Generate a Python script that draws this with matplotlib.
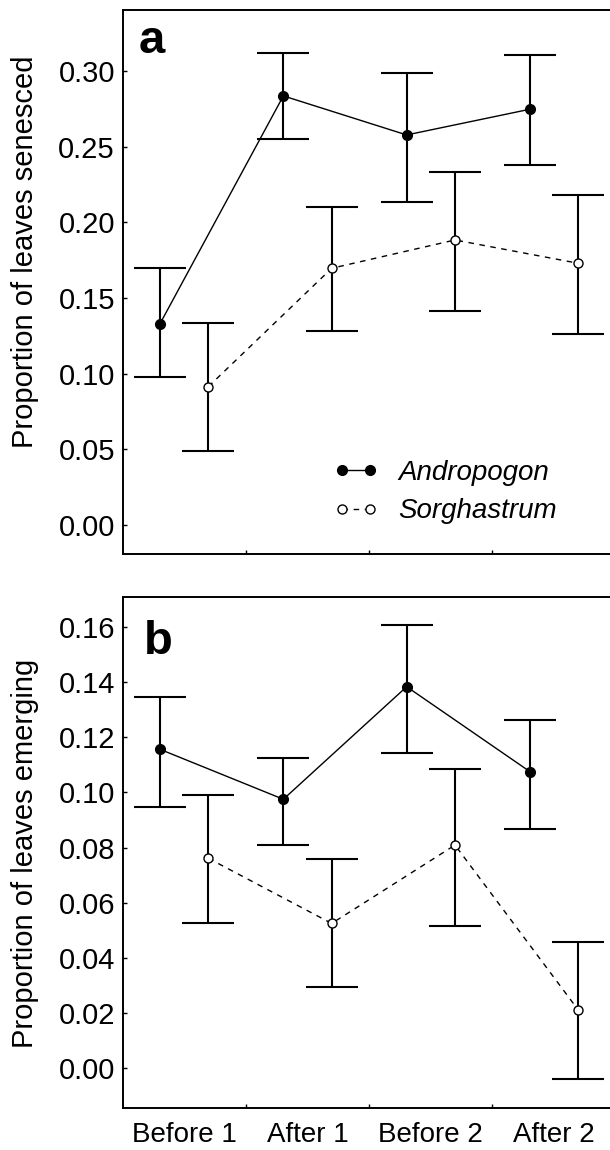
import numpy as np
import matplotlib.pyplot as plt
from matplotlib.ticker import FixedLocator

# --- data ---
periods = ["Before 1", "After 1", "Before 2", "After 2"]

# panel a: proportion of leaves senesced (mean, lower end, upper end)
andro_sen = [0.133, 0.2835, 0.2577, 0.2747]
andro_sen_lo = [0.0976, 0.2549, 0.2137, 0.2379]
andro_sen_hi = [0.1696, 0.3121, 0.2985, 0.3106]
sorg_sen = [0.0914, 0.1696, 0.1883, 0.1729]
sorg_sen_lo = [0.0489, 0.1282, 0.1414, 0.1260]
sorg_sen_hi = [0.1337, 0.2103, 0.2333, 0.2181]

# panel b: proportion of leaves emerging
andro_em = [0.1156, 0.0975, 0.1383, 0.1075]
andro_em_lo = [0.0948, 0.0809, 0.1141, 0.0868]
andro_em_hi = [0.1346, 0.1123, 0.1606, 0.1264]
sorg_em = [0.0761, 0.0525, 0.0809, 0.0211]
sorg_em_lo = [0.0525, 0.0296, 0.0517, -0.0040]
sorg_em_hi = [0.0990, 0.0757, 0.1083, 0.0459]

sen_ticks = [0.00, 0.05, 0.10, 0.15, 0.20, 0.25, 0.30]
em_ticks = [0.00, 0.02, 0.04, 0.06, 0.08, 0.10, 0.12, 0.14, 0.16]

plt.rcParams['font.family'] = ['Liberation Sans', 'DejaVu Sans']

W, H = 610, 1150
fig = plt.figure(figsize=(W / 100, H / 100), dpi=100)


def px_axes(left, top, bottom):
    return fig.add_axes([left / W, 1 - bottom / H, 1 - left / W, (bottom - top) / H])


def draw_panel(ax, a_mean, a_lo, a_hi, s_mean, s_lo, s_hi, ylim, yticks, fmt):
    x = np.arange(len(periods))
    off = 0.196
    a_mean = np.array(a_mean)
    s_mean = np.array(s_mean)
    a_err = [a_mean - np.array(a_lo), np.array(a_hi) - a_mean]
    s_err = [s_mean - np.array(s_lo), np.array(s_hi) - s_mean]

    ax.errorbar(x - off, a_mean, yerr=a_err, fmt='none', ecolor='black',
                elinewidth=1.5, capsize=18.5, capthick=1.5, zorder=2)
    ax.errorbar(x + off, s_mean, yerr=s_err, fmt='none', ecolor='black',
                elinewidth=1.5, capsize=18.5, capthick=1.5, zorder=2)
    ax.plot(x - off, a_mean, color='black', lw=1.0, marker='o', ms=7,
            mfc='black', mec='black', label='Andropogon', zorder=3)
    ax.plot(x + off, s_mean, color='black', lw=1.0, ls=(0, (4, 4)), marker='o',
            ms=6.5, mfc='white', mec='black', mew=1.0, label='Sorghastrum', zorder=3)

    ax.set_xlim(-0.494, 3.453)
    ax.set_ylim(*ylim)
    ax.set_yticks(yticks)
    ax.set_yticklabels([fmt.format(t) for t in yticks])
    ax.set_xticks(x)
    ax.xaxis.set_minor_locator(FixedLocator([0.5, 1.5, 2.5]))
    ax.tick_params(axis='x', which='major', length=0, pad=10, labelsize=20)
    ax.tick_params(axis='x', which='minor', direction='in', length=3, width=1)
    ax.tick_params(axis='y', direction='in', length=3, width=1, pad=6, labelsize=21)
    ax.spines['right'].set_visible(False)
    for s in ['left', 'top', 'bottom']:
        ax.spines[s].set_linewidth(1.4)


ax_a = px_axes(123.3, 10.4, 554)
draw_panel(ax_a, andro_sen, andro_sen_lo, andro_sen_hi,
           sorg_sen, sorg_sen_lo, sorg_sen_hi, (-0.0192, 0.340), sen_ticks, "{:.2f}")
ax_a.set_xticklabels([])

ax_b = px_axes(123.3, 597.3, 1108.3)
draw_panel(ax_b, andro_em, andro_em_lo, andro_em_hi,
           sorg_em, sorg_em_lo, sorg_em_hi, (-0.0145, 0.1707), em_ticks, "{:.2f}")
ax_b.set_xticklabels(periods)

# panel letters
fig.text(138.5 / W, 1 - 53 / H, "a", fontsize=34, fontweight='bold', ha='left', va='baseline')
fig.text(143.5 / W, 1 - 654 / H, "b", fontsize=34, fontweight='bold', ha='left', va='baseline')

# y labels
fig.text(25 / W, 1 - 251.5 / H, "Proportion of leaves senesced", rotation=90,
         fontsize=21, ha='center', va='center')
fig.text(25 / W, 1 - 853 / H, "Proportion of leaves emerging", rotation=90,
         fontsize=21, ha='center', va='center')

# legend
leg = ax_a.legend(loc='center left', bbox_to_anchor=(333.4 / W, 1 - 492 / H),
                  bbox_transform=fig.transFigure, frameon=False, numpoints=2,
                  handlelength=1.6, handletextpad=0.75, labelspacing=0.45,
                  borderpad=0, borderaxespad=0,
                  prop={'size': 20, 'style': 'italic'})

fig.savefig("out.png", dpi=100)
